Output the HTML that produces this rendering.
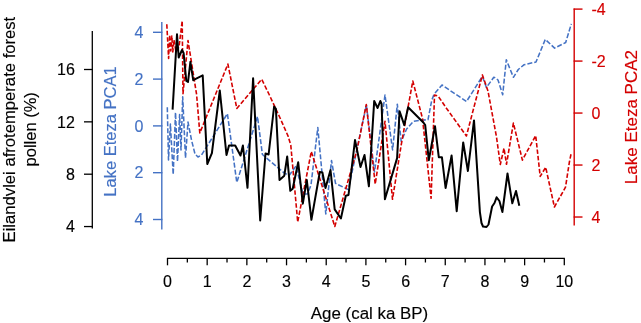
<!DOCTYPE html>
<html><head><meta charset="utf-8"><style>
html,body{margin:0;padding:0;background:#fff;}
svg{display:block;font-family:"Liberation Sans",sans-serif;will-change:transform;}
text{stroke-width:0.15px;}
</style></head><body>
<svg width="641" height="323" viewBox="0 0 641 323">
<line x1="92.3" y1="31" x2="92.3" y2="228.6" stroke="#000" stroke-width="1.3"/>
<line x1="84" y1="69.50" x2="92.9" y2="69.50" stroke="#000" stroke-width="1.3"/>
<text x="74.8" y="75.25" text-anchor="end" font-size="16" fill="#000" stroke="#000">16</text>
<line x1="84" y1="121.85" x2="92.9" y2="121.85" stroke="#000" stroke-width="1.3"/>
<text x="74.8" y="127.60" text-anchor="end" font-size="16" fill="#000" stroke="#000">12</text>
<line x1="84" y1="174.20" x2="92.9" y2="174.20" stroke="#000" stroke-width="1.3"/>
<text x="74.8" y="179.95" text-anchor="end" font-size="16" fill="#000" stroke="#000">8</text>
<line x1="84" y1="226.55" x2="92.9" y2="226.55" stroke="#000" stroke-width="1.3"/>
<text x="74.8" y="232.30" text-anchor="end" font-size="16" fill="#000" stroke="#000">4</text>
<line x1="161.8" y1="22" x2="161.8" y2="229.6" stroke="#4472c4" stroke-width="1.4"/>
<line x1="153" y1="32.30" x2="162.4" y2="32.30" stroke="#4472c4" stroke-width="1.4"/>
<text x="143.4" y="38.05" text-anchor="end" font-size="16" fill="#4472c4" stroke="#4472c4">4</text>
<line x1="153" y1="79.10" x2="162.4" y2="79.10" stroke="#4472c4" stroke-width="1.4"/>
<text x="143.4" y="84.85" text-anchor="end" font-size="16" fill="#4472c4" stroke="#4472c4">2</text>
<line x1="153" y1="125.90" x2="162.4" y2="125.90" stroke="#4472c4" stroke-width="1.4"/>
<text x="143.4" y="131.65" text-anchor="end" font-size="16" fill="#4472c4" stroke="#4472c4">0</text>
<line x1="153" y1="172.70" x2="162.4" y2="172.70" stroke="#4472c4" stroke-width="1.4"/>
<text x="143.4" y="178.45" text-anchor="end" font-size="16" fill="#4472c4" stroke="#4472c4">2</text>
<line x1="153" y1="219.50" x2="162.4" y2="219.50" stroke="#4472c4" stroke-width="1.4"/>
<text x="143.4" y="225.25" text-anchor="end" font-size="16" fill="#4472c4" stroke="#4472c4">4</text>
<line x1="574.2" y1="8.5" x2="574.2" y2="225.5" stroke="#d40000" stroke-width="1.4"/>
<line x1="573.6" y1="9.10" x2="582.5" y2="9.10" stroke="#d40000" stroke-width="1.4"/>
<text x="591.5" y="14.85" text-anchor="start" font-size="16" fill="#d40000" stroke="#d40000">-4</text>
<line x1="573.6" y1="61.08" x2="582.5" y2="61.08" stroke="#d40000" stroke-width="1.4"/>
<text x="591.5" y="66.83" text-anchor="start" font-size="16" fill="#d40000" stroke="#d40000">-2</text>
<line x1="573.6" y1="113.06" x2="582.5" y2="113.06" stroke="#d40000" stroke-width="1.4"/>
<text x="591.5" y="118.81" text-anchor="start" font-size="16" fill="#d40000" stroke="#d40000">0</text>
<line x1="573.6" y1="165.04" x2="582.5" y2="165.04" stroke="#d40000" stroke-width="1.4"/>
<text x="591.5" y="170.79" text-anchor="start" font-size="16" fill="#d40000" stroke="#d40000">2</text>
<line x1="573.6" y1="217.02" x2="582.5" y2="217.02" stroke="#d40000" stroke-width="1.4"/>
<text x="591.5" y="222.77" text-anchor="start" font-size="16" fill="#d40000" stroke="#d40000">4</text>
<line x1="166.90" y1="258.4" x2="564.90" y2="258.4" stroke="#000" stroke-width="1.3"/>
<line x1="167.50" y1="258.4" x2="167.50" y2="265.3" stroke="#000" stroke-width="1.3"/>
<text x="167.50" y="286.9" text-anchor="middle" font-size="16" fill="#000" stroke="#000">0</text>
<line x1="187.34" y1="258.4" x2="187.34" y2="262.5" stroke="#000" stroke-width="1.3"/>
<line x1="207.18" y1="258.4" x2="207.18" y2="265.3" stroke="#000" stroke-width="1.3"/>
<text x="207.18" y="286.9" text-anchor="middle" font-size="16" fill="#000" stroke="#000">1</text>
<line x1="227.02" y1="258.4" x2="227.02" y2="262.5" stroke="#000" stroke-width="1.3"/>
<line x1="246.86" y1="258.4" x2="246.86" y2="265.3" stroke="#000" stroke-width="1.3"/>
<text x="246.86" y="286.9" text-anchor="middle" font-size="16" fill="#000" stroke="#000">2</text>
<line x1="266.70" y1="258.4" x2="266.70" y2="262.5" stroke="#000" stroke-width="1.3"/>
<line x1="286.54" y1="258.4" x2="286.54" y2="265.3" stroke="#000" stroke-width="1.3"/>
<text x="286.54" y="286.9" text-anchor="middle" font-size="16" fill="#000" stroke="#000">3</text>
<line x1="306.38" y1="258.4" x2="306.38" y2="262.5" stroke="#000" stroke-width="1.3"/>
<line x1="326.22" y1="258.4" x2="326.22" y2="265.3" stroke="#000" stroke-width="1.3"/>
<text x="326.22" y="286.9" text-anchor="middle" font-size="16" fill="#000" stroke="#000">4</text>
<line x1="346.06" y1="258.4" x2="346.06" y2="262.5" stroke="#000" stroke-width="1.3"/>
<line x1="365.90" y1="258.4" x2="365.90" y2="265.3" stroke="#000" stroke-width="1.3"/>
<text x="365.90" y="286.9" text-anchor="middle" font-size="16" fill="#000" stroke="#000">5</text>
<line x1="385.74" y1="258.4" x2="385.74" y2="262.5" stroke="#000" stroke-width="1.3"/>
<line x1="405.58" y1="258.4" x2="405.58" y2="265.3" stroke="#000" stroke-width="1.3"/>
<text x="405.58" y="286.9" text-anchor="middle" font-size="16" fill="#000" stroke="#000">6</text>
<line x1="425.42" y1="258.4" x2="425.42" y2="262.5" stroke="#000" stroke-width="1.3"/>
<line x1="445.26" y1="258.4" x2="445.26" y2="265.3" stroke="#000" stroke-width="1.3"/>
<text x="445.26" y="286.9" text-anchor="middle" font-size="16" fill="#000" stroke="#000">7</text>
<line x1="465.10" y1="258.4" x2="465.10" y2="262.5" stroke="#000" stroke-width="1.3"/>
<line x1="484.94" y1="258.4" x2="484.94" y2="265.3" stroke="#000" stroke-width="1.3"/>
<text x="484.94" y="286.9" text-anchor="middle" font-size="16" fill="#000" stroke="#000">8</text>
<line x1="504.78" y1="258.4" x2="504.78" y2="262.5" stroke="#000" stroke-width="1.3"/>
<line x1="524.62" y1="258.4" x2="524.62" y2="265.3" stroke="#000" stroke-width="1.3"/>
<text x="524.62" y="286.9" text-anchor="middle" font-size="16" fill="#000" stroke="#000">9</text>
<line x1="544.46" y1="258.4" x2="544.46" y2="262.5" stroke="#000" stroke-width="1.3"/>
<line x1="564.30" y1="258.4" x2="564.30" y2="265.3" stroke="#000" stroke-width="1.3"/>
<text x="564.30" y="286.9" text-anchor="middle" font-size="16" fill="#000" stroke="#000">10</text>
<text transform="translate(14.8,129.6) rotate(-90)" text-anchor="middle" font-size="16.65" stroke="#000">Eilandvlei afrotemperate forest</text>
<text transform="translate(36,129.3) rotate(-90)" text-anchor="middle" font-size="16.5" stroke="#000">pollen (%)</text>
<text transform="translate(116.0,131.5) rotate(-90)" text-anchor="middle" font-size="16.5" fill="#4472c4" stroke="#4472c4">Lake Eteza PCA1</text>
<text transform="translate(637.0,117.1) rotate(-90)" text-anchor="middle" font-size="17" fill="#d40000" stroke="#d40000">Lake Eteza PCA2</text>
<text x="369.5" y="318.9" text-anchor="middle" font-size="16.9" stroke="#000">Age (cal ka BP)</text>
<polyline points="167.3,107.3 168.5,160.0 170.4,124.0 173.2,174.5 175.5,112.5 177.5,161.5 179.6,114.5 181.0,150.0 182.7,96.7 185.5,158.0 188.0,122.0 191.5,140.0 195.0,154.0 198.0,157.0 201.5,155.0 227.4,113.7 236.8,182.5 257.5,116.5 262.4,154.5 284.7,173.4 289.3,175.3 296.0,166.0 303.0,194.0 307.5,194.0 311.0,185.0 317.8,127.5 325.8,214.0 331.5,160.5 335.5,183.4 348.3,189.6 366.4,105.0 374.5,172.0 385.0,95.0 392.6,150.0 397.3,104.2 401.2,141.3 406.6,129.0 413.5,121.2 419.0,120.4 428.0,119.7 431.7,100.5 434.0,94.3 442.0,85.0 466.5,101.5 482.4,76.4 486.4,87.5 493.8,77.2 495.5,78.0 498.0,80.0 502.7,94.7 506.3,59.8 513.4,77.3 518.3,69.5 523.9,64.8 536.0,62.0 545.3,39.4 554.6,48.1 565.7,42.5 571.3,23.9" fill="none" stroke="#4472c4" stroke-width="1.55" stroke-linejoin="round" stroke-dasharray="5 2"/>
<polyline points="166.8,24.3 168.6,58.5 169.7,35.0 170.8,51.0 171.8,36.0 172.8,52.0 174.0,40.0 176.0,52.0 179.0,47.0 182.2,20.8 183.0,93.8 188.0,40.5 196.6,94.5 199.8,133.0 227.9,64.1 236.8,108.4 261.7,79.3 269.4,95.0 280.6,119.2 288.0,135.9 290.8,145.2 297.7,222.0 311.3,151.5 334.8,226.5 357.0,150.0 366.3,104.5 375.2,184.1 385.0,121.3 392.5,199.3 401.2,145.0 412.8,81.0 422.5,118.5 431.1,198.3 434.5,95.0 438.2,96.2 446.4,108.2 466.4,136.0 482.4,74.9 488.0,91.0 496.5,137.0 500.3,164.5 504.0,148.2 506.5,164.3 513.4,123.1 522.4,160.1 535.7,135.5 540.2,176.4 545.7,167.3 554.4,207.0 565.5,187.2 569.3,162.5 571.2,153.2" fill="none" stroke="#d40000" stroke-width="1.6" stroke-linejoin="round" stroke-dasharray="4.5 2"/>
<polyline points="172.6,109.6 177.0,34.2 178.7,57.5 182.0,50.0 183.6,52.9 186.3,81.0 188.0,82.0 190.4,61.8 193.2,80.2 202.7,75.4 207.3,164.0 211.9,153.2 219.8,90.5 226.5,155.0 229.0,145.5 235.2,145.5 240.5,155.5 242.9,145.5 247.5,187.8 253.1,78.2 260.2,220.5 265.5,153.5 268.6,154.5 274.1,106.5 275.9,108.9 279.5,180.0 284.3,175.7 287.2,156.5 290.3,190.8 292.7,188.7 298.2,162.3 302.8,203.7 306.8,180.0 311.4,219.8 319.8,172.0 322.4,172.5 325.5,188.0 330.5,170.0 334.7,209.4 340.9,218.5 345.8,195.8 348.5,195.0 355.0,140.0 360.5,167.0 364.5,155.0 368.9,186.3 374.2,101.0 377.6,108.0 380.3,101.0 381.6,104.0 384.9,199.3 397.1,158.1 399.6,111.2 404.3,125.1 408.1,107.3 423.6,122.8 425.2,125.1 428.8,160.2 435.0,126.2 438.8,157.2 441.9,157.2 445.6,188.0 451.6,155.5 456.7,211.2 463.2,142.4 467.9,171.0 474.0,120.4 479.9,212.1 481.5,223.0 483.0,226.5 486.5,227.0 488.5,224.5 492.1,206.5 494.5,203.0 496.6,197.3 499.4,201.0 502.4,212.0 507.5,173.5 512.3,203.3 516.0,191.0 519.3,205.8" fill="none" stroke="#000" stroke-width="2.0" stroke-linejoin="round"/>
</svg>
</body></html>
